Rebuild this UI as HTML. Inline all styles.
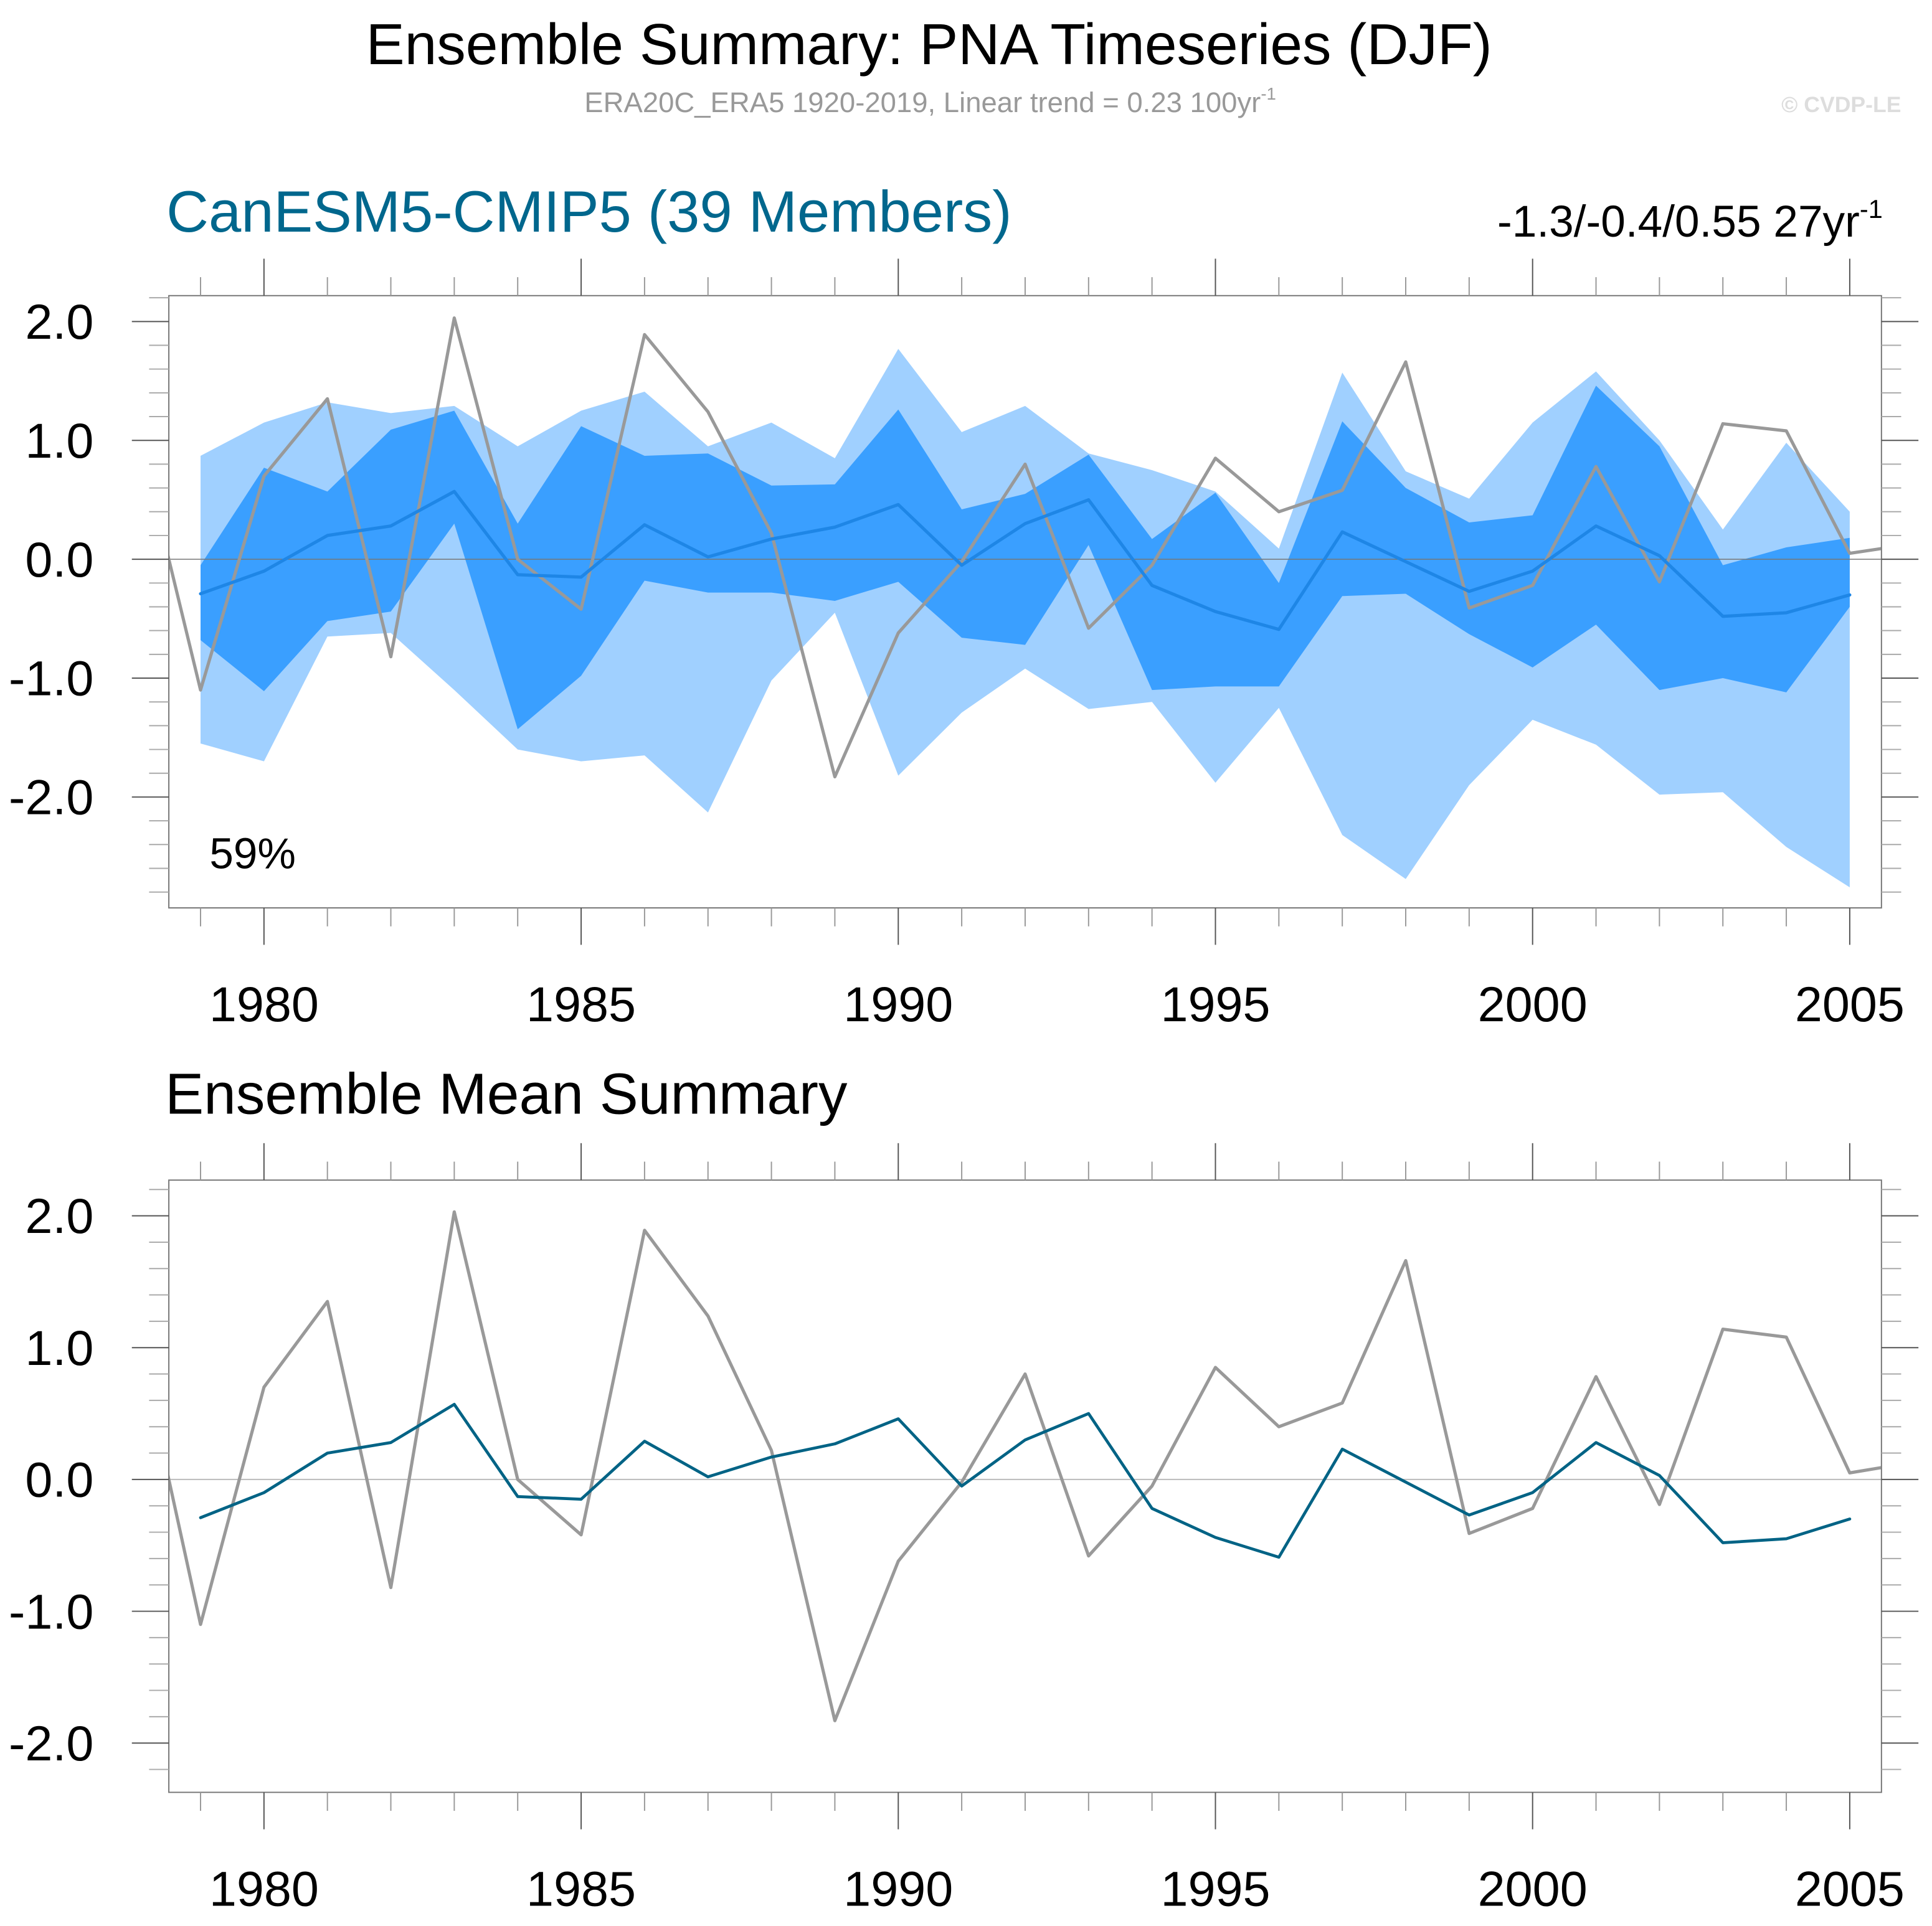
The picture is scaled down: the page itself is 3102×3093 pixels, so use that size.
<!DOCTYPE html>
<html><head><meta charset="utf-8">
<style>
html,body{margin:0;padding:0;background:#fff;}
svg{display:block;font-family:"Liberation Sans",sans-serif;}
</style></head>
<body>
<svg id="chart" xmlns="http://www.w3.org/2000/svg" width="3102" height="3093" viewBox="0 0 1568 1563.5">
<text x="754" y="52" font-size="47" text-anchor="middle" fill="#000">Ensemble Summary: PNA Timeseries (DJF)</text>
<text x="755" y="91" font-size="23" text-anchor="middle" fill="#999">ERA20C_ERA5 1920-2019, Linear trend = 0.23 100yr<tspan dy="-10" font-size="14">-1</tspan></text>
<text x="1543" y="91" font-size="18" font-weight="bold" text-anchor="end" fill="#ddd">© CVDP-LE</text>
<text x="135" y="188" font-size="47.5" fill="#00678d">CanESM5-CMIP5 (39 Members)</text>
<text x="1528" y="192" font-size="36" text-anchor="end" fill="#000">-1.3/-0.4/0.55 27yr<tspan dy="-15" font-size="21">-1</tspan></text>
<text x="134" y="904" font-size="47" fill="#000">Ensemble Mean Summary</text>
<text x="170" y="705" font-size="35" fill="#000">59%</text>
<g id="top"></g>
<g id="bot"></g>
</svg>
<script>
const years=[];for(let y=1979;y<=2005;y++)years.push(y);
const obsYears=[1978,1979,1980,1981,1982,1983,1984,1985,1986,1987,1988,1989,1990,1991,1992,1993,1994,1995,1996,1997,1998,1999,2000,2001,2002,2003,2004,2005,2006];
const obs=[1.1,-1.1,0.7,1.35,-0.82,2.03,0.0,-0.42,1.89,1.24,0.22,-1.83,-0.62,-0.02,0.8,-0.58,-0.05,0.85,0.4,0.58,1.66,-0.41,-0.22,0.78,-0.19,1.14,1.08,0.05,0.13];
const ensMean=[-0.29,-0.1,0.2,0.28,0.57,-0.13,-0.15,0.29,0.02,0.17,0.27,0.46,-0.05,0.3,0.5,-0.22,-0.44,-0.59,0.23,-0.02,-0.27,-0.1,0.28,0.03,-0.48,-0.45,-0.3];
const outerMax=[0.87,1.15,1.32,1.23,1.29,0.95,1.25,1.41,0.95,1.15,0.85,1.77,1.07,1.29,0.89,0.75,0.57,0.09,1.57,0.74,0.51,1.15,1.58,1.0,0.25,0.98,0.4];
const outerMin=[-1.55,-1.7,-0.65,-0.62,-1.1,-1.6,-1.7,-1.65,-2.13,-1.02,-0.45,-1.82,-1.29,-0.92,-1.26,-1.2,-1.88,-1.25,-2.32,-2.69,-1.9,-1.35,-1.56,-1.98,-1.96,-2.42,-2.76];
const innerMax=[-0.05,0.77,0.57,1.09,1.25,0.3,1.12,0.87,0.89,0.62,0.63,1.26,0.42,0.55,0.88,0.17,0.56,-0.2,1.16,0.6,0.31,0.37,1.46,0.95,-0.05,0.1,0.18];
const innerMin=[-0.68,-1.11,-0.52,-0.44,0.3,-1.43,-0.98,-0.18,-0.28,-0.28,-0.35,-0.19,-0.66,-0.72,0.12,-1.1,-1.07,-1.07,-0.31,-0.29,-0.63,-0.91,-0.55,-1.1,-1.0,-1.12,-0.4];
const xTicks=[1980,1985,1990,1995,2000,2005];
const yTicks=[2,1,0,-1,-2];

const NS="http://www.w3.org/2000/svg";
const L=137,R=1527,X0=1978.5,X1=2005.5;
const xs=v=>L+(v-X0)/(X1-X0)*(R-L);
function el(p,t,a){const e=document.createElementNS(NS,t);for(const k in a)e.setAttribute(k,a[k]);p.appendChild(e);return e;}

function panel(g,top,bot,zeroY,unit,isTop){
  const ys=v=>zeroY-v*unit;
  const vmin=(zeroY-bot)/unit, vmax=(zeroY-top)/unit;
  const cid='clip'+(isTop?'t':'b');
  const cp=el(g,'clipPath',{id:cid});el(cp,'rect',{x:L,y:top,width:R-L,height:bot-top});
  const inner=el(g,'g',{'clip-path':'url(#'+cid+')'});
  if(isTop){
    const band=(hi,lo,fill,name)=>{
      let d=years.map((y,i)=>(i?'L':'M')+xs(y)+','+ys(hi[i])).join('');
      for(let i=years.length-1;i>=0;i--)d+='L'+xs(years[i])+','+ys(lo[i]);
      const p=el(inner,'path',{d:d+'Z',fill:fill});
      
      
    };
    band(outerMax,outerMin,'#a0d0ff','outer-spread-band');
    band(innerMax,innerMin,'#3a9fff','inner-spread-band');
  }
  const zl=el(inner,'line',{x1:L,x2:R,y1:ys(0),y2:ys(0),stroke:isTop?'#777':'#bbb','stroke-width':isTop?0.8:1});
  
  
  const ob=el(inner,'polyline',{points:obsYears.map((y,i)=>xs(y)+','+ys(obs[i])).join(' '),fill:'none',stroke:'#999','stroke-width':2.6,'stroke-linejoin':'round'});
  
  
  const ml=el(inner,'polyline',{points:years.map((y,i)=>xs(y)+','+ys(ensMean[i])).join(' '),fill:'none',stroke:isTop?'#1e86e6':'#006385','stroke-width':isTop?2.6:2.4,'stroke-linejoin':'round','stroke-linecap':'round'});
  
  
  const fr=el(g,'rect',{x:L,y:top,width:R-L,height:bot-top,fill:'none',stroke:'#777','stroke-width':1});
  
  
  for(let y=1979;y<=2005;y++){
    const maj=xTicks.includes(y), len=maj?30:15, x=xs(y);
    el(g,'line',{x1:x,x2:x,y1:top,y2:top-len,stroke:maj?'#555':'#999','stroke-width':1});
    el(g,'line',{x1:x,x2:x,y1:bot,y2:bot+len,stroke:maj?'#555':'#999','stroke-width':1});
  }
  xTicks.forEach(t=>{
    const tx=el(g,'text',{x:xs(t),y:bot+92,'font-size':40,'text-anchor':'middle',fill:'#000'});
    tx.textContent=t;
    
    
  });
  for(let k=Math.ceil(vmin*5);k<=Math.floor(vmax*5);k++){
    const v=k/5, maj=k%5===0, len=maj?30:16, y=ys(v);
    el(g,'line',{x1:L,x2:L-len,y1:y,y2:y,stroke:maj?'#555':'#aaa','stroke-width':1});
    el(g,'line',{x1:R,x2:R+len,y1:y,y2:y,stroke:maj?'#555':'#aaa','stroke-width':1});
  }
  yTicks.forEach(t=>{
    const tx=el(g,'text',{x:76,y:ys(t)+14,'font-size':40,'text-anchor':'end',fill:'#000'});
    tx.textContent=t.toFixed(1);
    
    
  });
}
const gt=document.getElementById('top');


const gb=document.getElementById('bot');


panel(gt,240,737,454,96.5,true);
panel(gb,958,1455,1201,107,false);
</script>
</body></html>
